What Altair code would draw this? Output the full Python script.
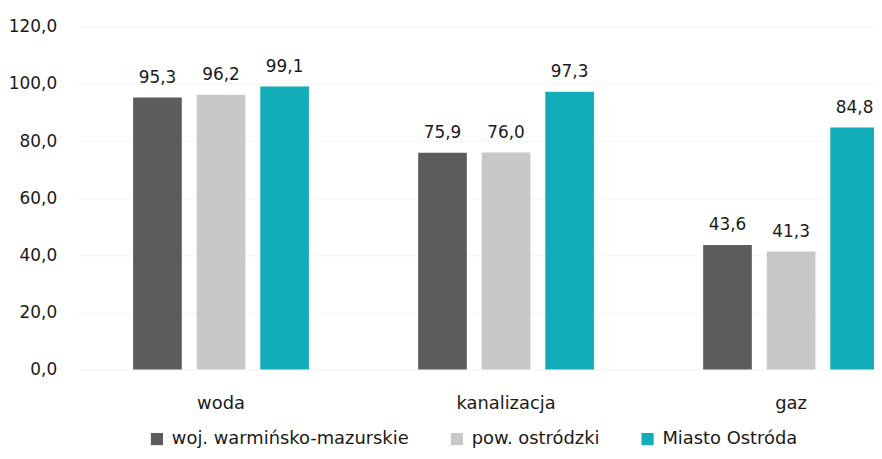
import altair as alt
import pandas as pd

categories = ["woda", "kanalizacja", "gaz"]
series = ["woj. warmińsko-mazurskie", "pow. ostródzki", "Miasto Ostróda"]
colors = ["#5c5c5c", "#c8c8c8", "#13adb9"]

woj = [95.3, 75.9, 43.6]
powiat = [96.2, 76.0, 41.3]
miasto = [99.1, 97.3, 84.8]

rows = []
for s, vals in zip(series, [woj, powiat, miasto]):
    for c, v in zip(categories, vals):
        rows.append({"kategoria": c, "seria": s, "wartosc": v,
                     "etykieta": f"{v:.1f}".replace(".", ",")})
df = pd.DataFrame(rows)

FONT = "DejaVu Sans"
TXT = "#1a1a1a"

x_enc = alt.X("kategoria:N", sort=categories, title=None,
              scale=alt.Scale(range=[0, 861], paddingInner=0, paddingOuter=0),
              axis=alt.Axis(labelAngle=0, labelPadding=25, grid=False, labelFontSize=18))
xo_enc = alt.XOffset("seria:N", sort=series,
                     scale=alt.Scale(paddingInner=0.234, paddingOuter=0.859))
y_enc = alt.Y("wartosc:Q", title=None,
              scale=alt.Scale(domain=[0, 120], nice=False),
              axis=alt.Axis(values=[0, 20, 40, 60, 80, 100, 120],
                            labelExpr="replace(format(datum.value, '.1f'), '.', ',')",
                            labelPadding=22, grid=True, gridColor="#f4f4f4"))

base = alt.Chart(df).encode(x=x_enc, xOffset=xo_enc, y=y_enc)

bars = base.mark_bar().encode(
    color=alt.Color("seria:N", sort=series,
                    scale=alt.Scale(domain=series, range=colors),
                    legend=alt.Legend(title=None, orient="none", direction="horizontal",
                                      legendX=70, legendY=406,
                                      symbolType="square", symbolSize=150,
                                      symbolStrokeWidth=0,
                                      labelFont=FONT, labelFontSize=18, labelColor=TXT,
                                      labelLimit=0,
                                      labelOffset=6, columnPadding=39))
)

labels = base.mark_text(font=FONT, fontSize=17, color=TXT,
                        baseline="alphabetic", dy=-15).encode(text="etykieta:N")

chart = (bars + labels).properties(
    width=801, height=345,
    autosize="none",
    padding={"left": 71, "top": 17.5, "right": 0, "bottom": 80.5},
).configure_view(stroke=None).configure_axis(
    domain=False, ticks=False, labelFont=FONT, labelFontSize=17, labelColor=TXT
)

chart.save("out.html", embed_options={"renderer": "svg", "actions": False})
